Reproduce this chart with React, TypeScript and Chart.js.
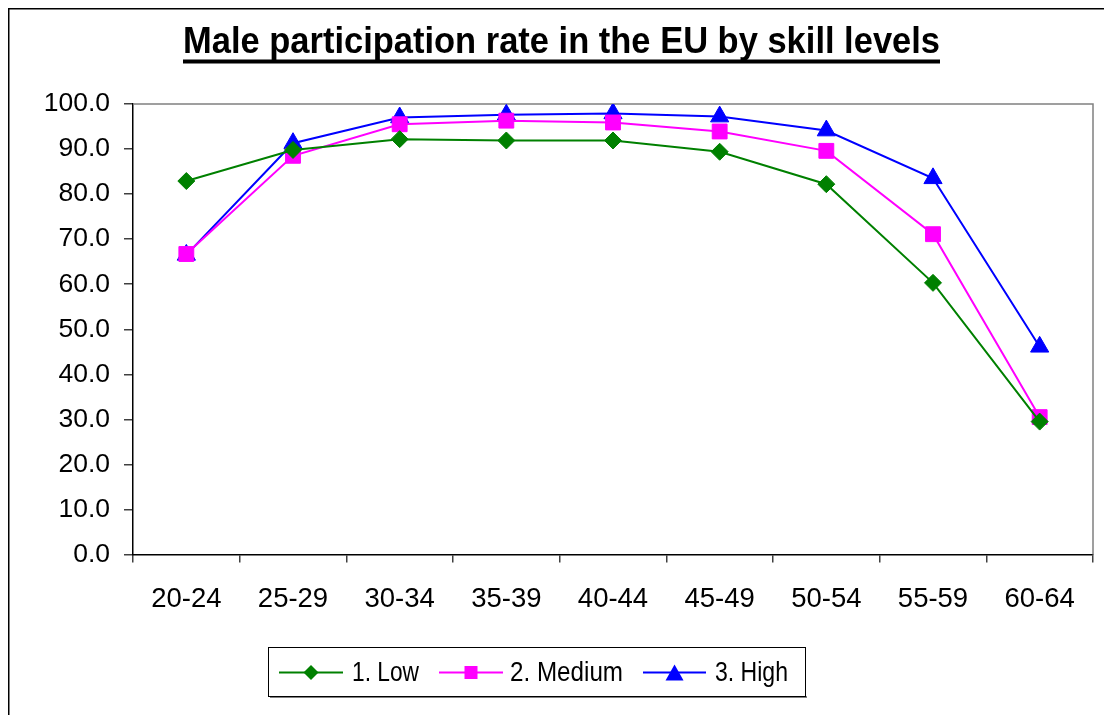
import React, { useEffect, useRef } from "react";
import { Chart, registerables } from "chart.js";

Chart.register(...registerables);

const categories = ["20-24", "25-29", "30-34", "35-39", "40-44", "45-49", "50-54", "55-59", "60-64"];
const lowValues = [82.9, 89.8, 92.2, 91.9, 91.9, 89.4, 82.2, 60.3, 29.5];
const mediumValues = [66.7, 88.5, 95.5, 96.3, 95.9, 93.9, 89.6, 71.1, 30.5];
const highValues = [66.5, 91.3, 97.0, 97.6, 97.9, 97.2, 94.1, 83.5, 46.1];
const seriesNames = ["1. Low", "2. Medium", "3. High"];
const titleText = "Male participation rate in the EU by skill levels";

const FONT = "'Liberation Sans', Arial, sans-serif";
const COLORS = ["#008000", "#FF00FF", "#0000FF"];

function drawMarker(ctx: CanvasRenderingContext2D, style: string, x: number, y: number, color: string) {
  ctx.save();
  ctx.fillStyle = color;
  ctx.beginPath();
  if (style === "rectRot") {
    const r = 7.5;
    ctx.moveTo(x - r, y);
    ctx.lineTo(x, y - r);
    ctx.lineTo(x + r, y);
    ctx.lineTo(x, y + r);
  } else if (style === "rect") {
    const s = 6.5;
    ctx.rect(x - s, y - s, 2 * s, 2 * s);
  } else {
    const h = 8;
    const w = 9;
    ctx.moveTo(x, y - h);
    ctx.lineTo(x + w, y + h);
    ctx.lineTo(x - w, y + h);
  }
  ctx.closePath();
  ctx.fill();
  ctx.restore();
}

const decorPlugin = {
  id: "decor",
  beforeDatasetsDraw(chart: any) {
    const ctx = chart.ctx as CanvasRenderingContext2D;
    const a = chart.chartArea;
    ctx.save();
    ctx.strokeStyle = "#808080";
    ctx.lineWidth = 1.5;
    ctx.beginPath();
    ctx.moveTo(a.left, a.top);
    ctx.lineTo(a.right, a.top);
    ctx.lineTo(a.right, a.bottom);
    ctx.stroke();
    ctx.restore();
  },
  afterDraw(chart: any) {
    const ctx = chart.ctx as CanvasRenderingContext2D;
    ctx.save();
    // outer frame (top & left visible)
    ctx.strokeStyle = "#000";
    ctx.lineWidth = 1.5;
    ctx.beginPath();
    ctx.moveTo(0.75, chart.height);
    ctx.lineTo(0.75, 0.75);
    ctx.lineTo(chart.width, 0.75);
    ctx.stroke();

    // title
    const tLeft = 175;
    const tRight = 932;
    ctx.font = `bold 36px ${FONT}`;
    ctx.fillStyle = "#000";
    ctx.textBaseline = "alphabetic";
    ctx.textAlign = "left";
    const tw = ctx.measureText(titleText).width;
    const sx = (tRight - tLeft) / tw;
    ctx.save();
    ctx.translate(tLeft, 44.5);
    ctx.scale(sx, 1);
    ctx.fillText(titleText, 0, 0);
    ctx.restore();
    ctx.fillRect(tLeft, 51.5, tRight - tLeft, 4);

    // legend
    const bx = 260, by = 639, bw = 537, bh = 49;
    ctx.fillStyle = "#808080";
    ctx.fillRect(bx + 2, by + bh, bw, 2);
    ctx.fillStyle = "#fff";
    ctx.fillRect(bx, by, bw, bh);
    ctx.strokeStyle = "#000";
    ctx.lineWidth = 1;
    ctx.strokeRect(bx + 0.5, by + 0.5, bw, bh);
    const items = [
      { x0: 271, x1: 335, tx: 344, tw: 67, style: "rectRot" },
      { x0: 431, x1: 495, tx: 502, tw: 113, style: "rect" },
      { x0: 635, x1: 698, tx: 707, tw: 73, style: "triangle" },
    ];
    const cy = 664.5;
    items.forEach((it, i) => {
      ctx.strokeStyle = COLORS[i];
      ctx.lineWidth = 2;
      ctx.beginPath();
      ctx.moveTo(it.x0, cy);
      ctx.lineTo(it.x1, cy);
      ctx.stroke();
      drawMarker(ctx, it.style, (it.x0 + it.x1) / 2, cy, COLORS[i]);
      ctx.save();
      ctx.font = `28px ${FONT}`;
      ctx.fillStyle = "#000";
      ctx.textBaseline = "middle";
      const w = ctx.measureText(seriesNames[i]).width;
      ctx.translate(it.tx, cy + 1);
      ctx.scale(it.tw / w, 1);
      ctx.fillText(seriesNames[i], 0, 0);
      ctx.restore();
    });
    ctx.restore();
  },
};

export default function App() {
  const canvasRef = useRef<HTMLCanvasElement | null>(null);

  useEffect(() => {
    document.documentElement.style.overflow = "hidden";
    document.body.style.overflow = "hidden";
    const canvas = canvasRef.current;
    if (!canvas) return;
    const mk = (label: string, data: number[], color: string, style: string, radius: number) => ({
      label,
      data,
      borderColor: color,
      backgroundColor: color,
      pointBackgroundColor: color,
      pointBorderColor: color,
      pointBorderWidth: 1,
      pointStyle: style,
      pointRadius: radius,
      borderWidth: 2,
      tension: 0,
    });
    const chart = new Chart(canvas, {
      type: "line",
      data: {
        labels: categories,
        datasets: [
          mk(seriesNames[0], lowValues, COLORS[0], "rectRot", 8.5),
          mk(seriesNames[1], mediumValues, COLORS[1], "rect", 10.5),
          mk(seriesNames[2], highValues, COLORS[2], "triangle", 10.5),
        ],
      },
      options: {
        responsive: false,
        animation: false,
        devicePixelRatio: 1,
        layout: { padding: { left: 0, top: 96, right: 19, bottom: 0 } },
        plugins: {
          legend: { display: false },
          title: { display: false },
          tooltip: { enabled: false },
        },
        scales: {
          x: {
            type: "category",
            offset: true,
            grid: {
              display: true,
              drawOnChartArea: false,
              drawTicks: true,
              tickLength: 8,
              offset: true,
              color: "#404040",
              lineWidth: 1.5,
            },
            border: { display: true, color: "#000", width: 1.5 },
            ticks: {
              color: "#000",
              font: { family: FONT, size: 27.5 },
              padding: 20,
              maxRotation: 0,
              autoSkip: false,
            },
            afterFit: (s: any) => {
              s.height = 160.5;
            },
          },
          y: {
            min: 0,
            max: 100,
            grid: {
              display: true,
              drawOnChartArea: false,
              drawTicks: true,
              tickLength: 9,
              color: "#404040",
              lineWidth: 1.5,
            },
            border: { display: true, color: "#000", width: 1.5 },
            ticks: {
              stepSize: 10,
              color: "#000",
              font: { family: FONT, size: 26.5 },
              padding: 14,
              callback: (v: any) => Number(v).toFixed(1),
            },
            afterFit: (s: any) => {
              s.width = 125;
            },
          },
        },
      },
      plugins: [decorPlugin],
    });
    return () => chart.destroy();
  }, []);

  return (
    <div style={{ width: 1104, height: 707 }}>
      <canvas ref={canvasRef} width={1104} height={707} style={{ display: "block", width: 1104, height: 707 }} />
    </div>
  );
}
